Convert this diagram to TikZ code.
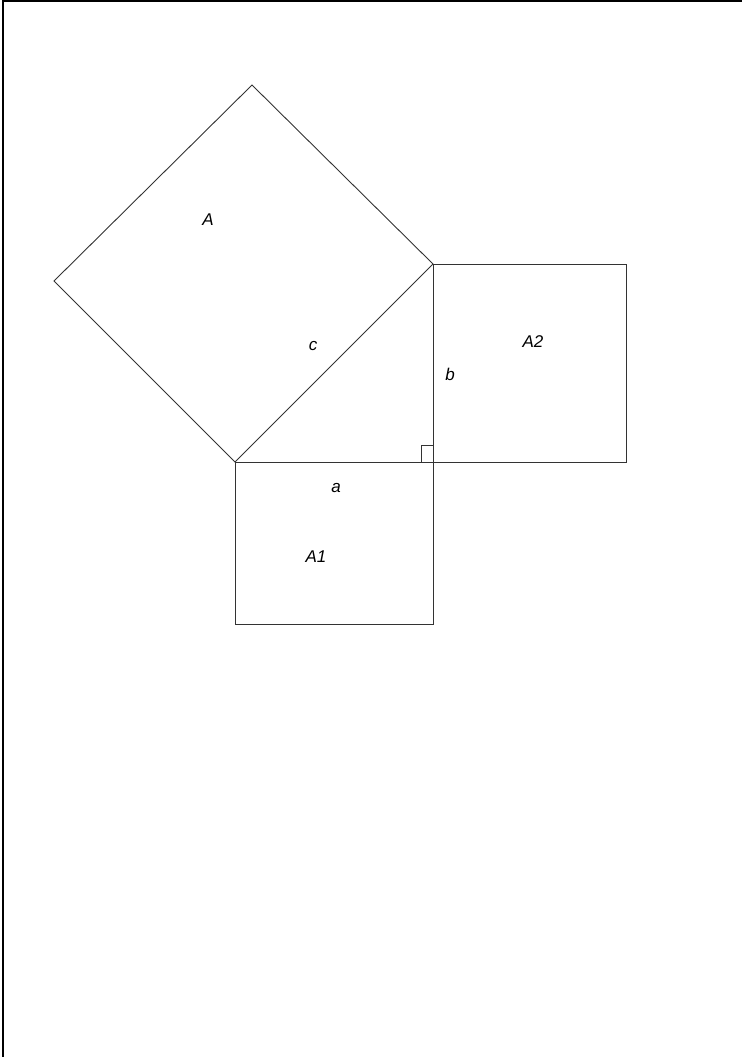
\documentclass[tikz,border=0pt]{standalone}
\usepackage{fontspec}
\setmainfont{Liberation Sans}
\begin{document}
\begin{tikzpicture}[x=1pt,y=-1pt,
  edge/.style={draw=black!80,line width=0.9pt},
  frame/.style={draw=black,line width=2.2pt},
  lbl/.style={font=\fontsize{17}{19}\selectfont\itshape,inner sep=0pt}]
\useasboundingbox (0,0) rectangle (742,1057);
% frame (top and left only)
\coordinate (f1) at (3,1057);
\coordinate (f2) at (3,1);
\coordinate (f3) at (742,1);
\draw[frame] (f1) -- (f2) -- (f3);
% triangle vertices
\coordinate (P1) at (235,462);
\coordinate (P2) at (433,264);
\coordinate (C) at (433,462);
% square A on hypotenuse
\coordinate (Atop) at (252,85);
\coordinate (Aleft) at (54,281);
\draw[edge] (P1) -- (P2) -- (Atop) -- (Aleft) -- cycle;
% square A2
\coordinate (B1) at (626,264);
\coordinate (B2) at (626,462);
\draw[edge] (P2) -- (B1) -- (B2) -- (C) -- cycle;
% square A1
\coordinate (D1) at (433,624);
\coordinate (D2) at (235,624);
\draw[edge] (P1) -- (C) -- (D1) -- (D2) -- cycle;
% right angle mark
\coordinate (R1) at (421,462);
\coordinate (R2) at (421,445);
\coordinate (R3) at (433,445);
\draw[edge] (R1) -- (R2) -- (R3);
% labels
\node[lbl] (lA) at (208,220) {A};
\node[lbl] (lc) at (313,346) {c};
\node[lbl] (lb) at (450,374) {b};
\node[lbl] (lA2) at (533,342) {A2};
\node[lbl] (la) at (336,488) {a};
\node[lbl] (lA1) at (316,557) {A1};
\end{tikzpicture}
\end{document}
